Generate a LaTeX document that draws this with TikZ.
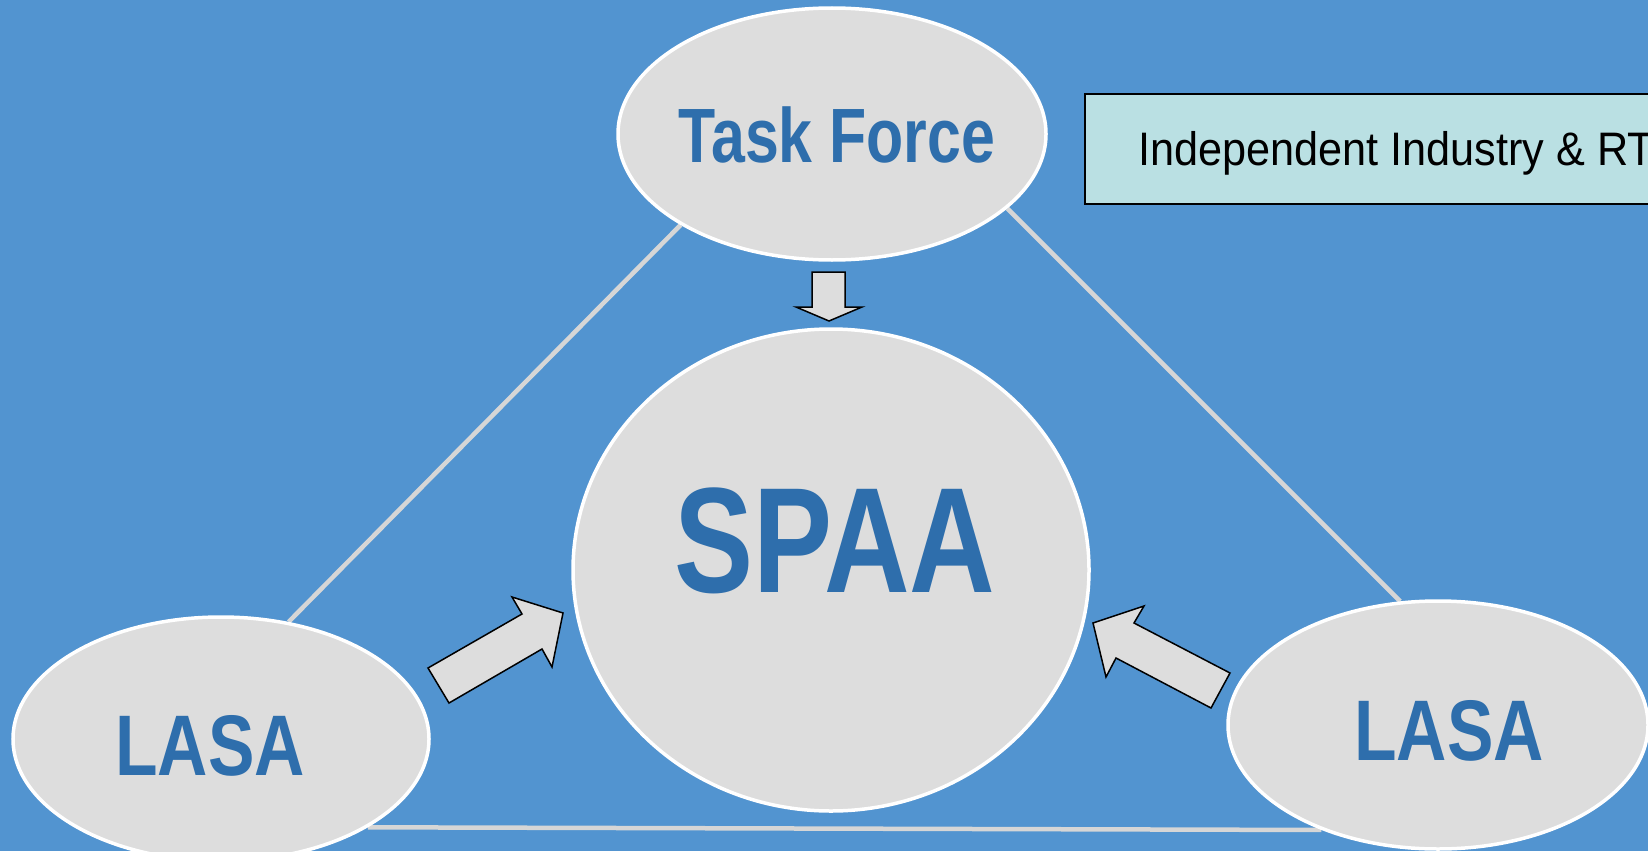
\documentclass[tikz,border=0pt]{standalone}
\usepackage{fontspec}
\setmainfont{Liberation Sans}
\usetikzlibrary{shapes.geometric}
\definecolor{bgblue}{RGB}{82,148,208}
\definecolor{ellfill}{RGB}{221,221,221}
\definecolor{txtblue}{RGB}{46,110,172}
\definecolor{boxfill}{RGB}{186,224,227}
\definecolor{linegray}{RGB}{214,214,214}
\pgfdeclarelayer{bglayer}
\pgfdeclarelayer{linklayer}
\pgfsetlayers{bglayer,linklayer,main}
\tikzset{
  bubble/.style={ellipse, fill=ellfill, draw=white, line width=3.5pt, inner sep=0pt},
  bubbletext/.style={text=txtblue, inner sep=0pt, text depth=0pt, font=\bfseries},
  link/.style={draw=linegray, line width=4.5pt},
  blockarrow/.style={fill=ellfill, draw=black, line width=1.5pt, line join=miter},
  infobox/.style={fill=boxfill, draw=black, line width=2pt, inner sep=0pt},
}
\newcommand{\narrow}[2]{\scalebox{#1}[1]{#2}}
\begin{document}
\begin{tikzpicture}[x=1pt,y=-1pt]
\clip (0,0) rectangle (1648,851);
\begin{pgfonlayer}{bglayer}
\fill[bgblue] (0,0) rectangle (1648,851);
\end{pgfonlayer}
% ellipses
\node[bubble, minimum width=428pt, minimum height=252pt] (tf) at (832,134) {};
\node[bubble, minimum width=516pt, minimum height=482pt] (spaa) at (831,570) {};
\node[bubble, minimum width=416pt, minimum height=244pt] (lasaL) at (221,739) {};
\node[bubble, minimum width=420pt, minimum height=248pt] (lasaR) at (1438,725) {};
% connectors behind ellipses
\begin{pgfonlayer}{linklayer}
\path[link] (tf.211.6) -- (lasaL.60.9);
\path[link] (tf.-23.8) -- (lasaR.107.3);
\path[link] (lasaL.-31.5) -- (lasaR.222);
\end{pgfonlayer}
% texts
\node[bubbletext] (tft) at (837,135) {\fontsize{77}{80}\selectfont\narrow{0.79}{Task Force}};
\node[bubbletext] (spaat) at (835,540) {\fontsize{150}{150}\selectfont\narrow{0.79}{SPAA}};
\node[bubbletext] (lasaLt) at (210,745) {\fontsize{86}{86}\selectfont\narrow{0.81}{LASA}};
\node[bubbletext] (lasaRt) at (1449,730) {\fontsize{86}{86}\selectfont\narrow{0.81}{LASA}};
% block arrows
\draw[blockarrow] (812,272) -- (845,272) -- (845,307) -- (862,307) -- (829,321) -- (796,307) -- (812,307) -- cycle;
\draw[blockarrow] (428,668) -- (522,614) -- (512,597) -- (563,613) -- (552,667) -- (542,649) -- (449,703) -- cycle;
\draw[blockarrow] (1093,623) -- (1144,606) -- (1134,623) -- (1230,673) -- (1211,708) -- (1116,658) -- (1106,677) -- cycle;
% info box
\node[infobox, anchor=north west, minimum width=650pt, minimum height=110pt] (box) at (1084,93) {};
\node[anchor=base west, inner sep=0pt] (boxt) at (1138,165) {\fontsize{47}{50}\selectfont\narrow{0.92}{Independent Industry \& RTOs}};
\end{tikzpicture}
\end{document}
